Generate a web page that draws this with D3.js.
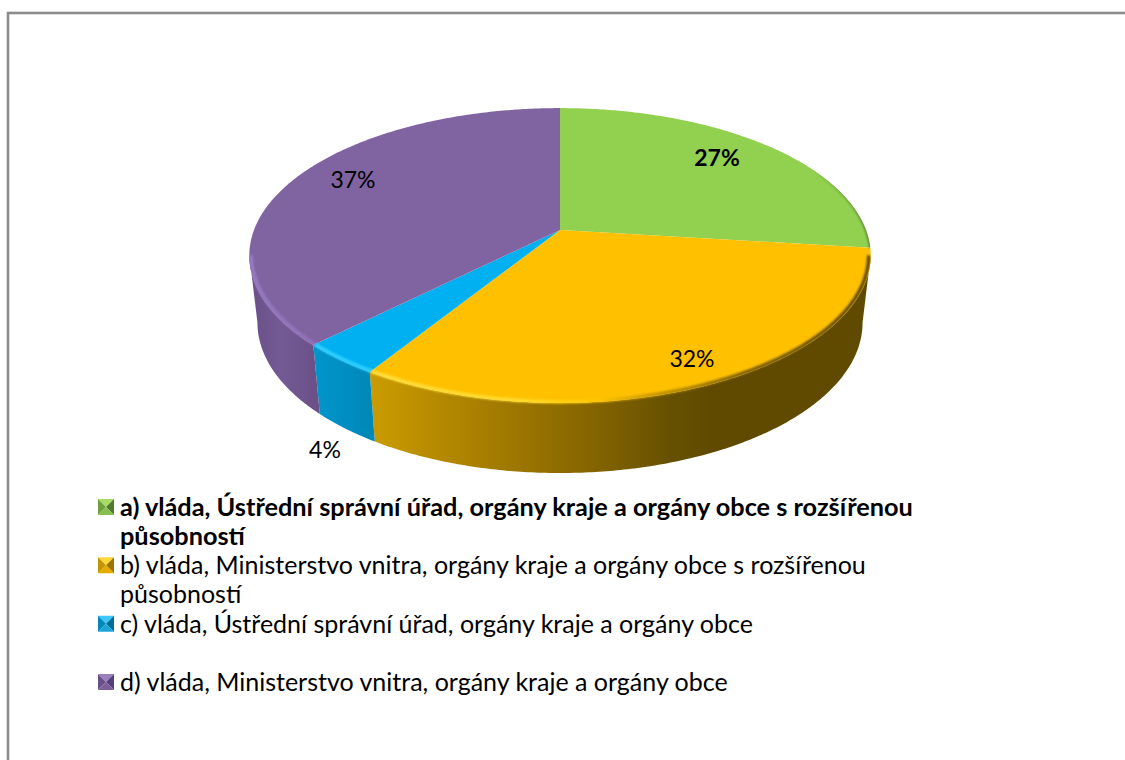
<!DOCTYPE html>
<html><head><meta charset="utf-8">
<script src="https://cdn.jsdelivr.net/npm/d3@7/dist/d3.min.js"></script>
<style>html,body{margin:0;padding:0;background:#fff;overflow:hidden}svg{display:block}text{font-family:Lato,"Open Sans",sans-serif;fill:#000}</style>
</head><body><svg id="c" width="1125" height="760"></svg>
<script>
const categories=["a","b","c","d"];
const values=[26.95,31.95,3.61,37.49];
const percentLabels=["27%","32%","4%","37%"];
const legendLines=[
 ["a) vláda, Ústřední správní úřad, orgány kraje a orgány obce s rozšířenou","působností"],
 ["b) vláda, Ministerstvo vnitra, orgány kraje a orgány obce s rozšířenou","působností"],
 ["c) vláda, Ústřední správní úřad, orgány kraje a orgány obce"],
 ["d) vláda, Ministerstvo vnitra, orgány kraje a orgány obce"]];
const boldFlags=[true,false,false,false];
const topColors=["#92d050","#ffc000","#00b0f0","#8064a2"];
const wallStops=[
 [[0,"#6f9c3c"],[1,"#4f7030"]],
 [[0,"#cb9c00"],[.22,"#a87f00"],[.45,"#846400"],[.6,"#665000"],[.68,"#604a00"],[1,"#604a00"]],
 [[0,"#0096cc"],[1,"#0088b8"]],
 [[0,"#6a5088"],[.5,"#745a94"],[1,"#6c5189"]]];
const rimStops=[
 [[0,"#5f8f38"],[1,"#4e7a30"]],
 [[0,"#ffe040"],[.3,"#ffdc30"],[.45,"#ffc800"],[.56,"#c89800"],[.75,"#7a5c00"],[1,"#5c4600"]],
 [[0,"#30d0ff"],[1,"#30d0ff"]],
 [[0,"#9a7cc4"],[1,"#9272bc"]]];
const labelPos=[[717,166],[692,367],[325,458],[353,188]];
const markerTop=["#a8dc62","#ffd83a","#3cc8f8","#9a80bc"];
const markerLeft=["#6fa03e","#c49400","#0088b8","#6a5088"];
const markerRight=["#4f7a30","#9c7600","#006f98","#54407a"];
const markerBottom=["#86bf4c","#e4ac00","#1aa4d8","#7a5f9c"];

const svg=d3.select("#c");
svg.append("rect").attr("x",8).attr("y",13).attr("width",1300).attr("height",1000)
  .attr("fill","#fff").attr("stroke","#8c8c8c").attr("stroke-width",2.6);

const defs=svg.append("defs");
const blur=defs.append("filter").attr("id","soft").attr("x","-10%").attr("y","-10%").attr("width","120%").attr("height","120%");
blur.append("feGaussianBlur").attr("stdDeviation",1.3);

// perspective projection of the unit disc
const K=.1729;
function proj(a,cy,A,B,r=1){const u=r*Math.sin(a),v=r*Math.cos(a),w=1+K*v;return [560+B*u/w,cy-A*v/w];}
const topP=a=>proj(a,230,143,306);
const rimP=a=>proj(a,230,143,306,.994);
const botP=a=>proj(a,296.5,146,298);
const line=d3.line();
const steps=(a,b)=>{const n=Math.max(2,Math.ceil((b-a)/.01));return d3.range(n+1).map(i=>a+(b-a)*i/n);};

const arcs=d3.pie().sort(null)(values);
function grad(id,stops,x1,x2){
  const g=defs.append("linearGradient").attr("id",id).attr("gradientUnits","userSpaceOnUse")
   .attr("x1",x1).attr("x2",x2).attr("y1",0).attr("y2",0);
  stops.forEach(s=>g.append("stop").attr("offset",s[0]).attr("stop-color",s[1]));
}
const visA=1.745, visB=2*Math.PI-1.745;
const walls=svg.append("g"), tops=svg.append("g");
// silhouette clip keeps the soft rim from leaking outside the pie
const clip=defs.append("clipPath").attr("id","sil");
clip.append("path").attr("d",line(steps(0,2*Math.PI).map(topP))+"Z");
{const ang=steps(visA,visB);
 clip.append("path").attr("d",line(ang.map(topP).concat(ang.slice().reverse().map(botP)))+"Z");}
const rims=svg.append("g").attr("clip-path","url(#sil)");
arcs.forEach((d,i)=>{
  const a=Math.max(d.startAngle,visA), b=Math.min(d.endAngle,visB);
  if(b>a){
    const xs=steps(a,b).map(t=>topP(t)[0]);
    const x1=d3.min(xs),x2=d3.max(xs);
    grad("w"+i,wallStops[i],x1,x2);
    grad("r"+i,rimStops[i],x1,x2);
    const ang=steps(a,b);
    walls.append("path").attr("d",line(ang.map(topP).concat(ang.slice().reverse().map(botP)))+"Z")
      .attr("fill",`url(#w${i})`);
  }
  tops.append("path").attr("d",line([[560,230]].concat(steps(d.startAngle,d.endAngle).map(topP)))+"Z")
    .attr("fill",topColors[i]);
  if(b>a){
    rims.append("path").attr("d",line(steps(a,b).map(rimP))).attr("fill","none")
      .attr("stroke",`url(#r${i})`).attr("stroke-width",3.5).attr("filter","url(#soft)");
  }
});
// thin dark edge on the green slice's right side
grad("edge",[[0,"#92d050"],[1,"#4e7a30"]],810,871);
rims.append("path").attr("d",line(steps(.9,arcs[0].endAngle).map(topP))).attr("fill","none")
  .attr("stroke","url(#edge)").attr("stroke-width",2.4).attr("filter","url(#soft)");

svg.append("g").selectAll("text").data(percentLabels).join("text")
  .attr("x",(d,i)=>labelPos[i][0]).attr("y",(d,i)=>labelPos[i][1])
  .attr("text-anchor","middle").attr("font-size",23).attr("font-weight",(d,i)=>boldFlags[i]?700:400)
  .text(d=>d);

// legend
const rowY=d3.scalePoint().domain(categories).range([507,682]);
const leg=svg.append("g").selectAll("g").data(categories).join("g")
  .attr("transform",d=>`translate(106,${rowY(d)})`);
const s=8;
leg.each(function(d,i){
  const g=d3.select(this);
  g.append("path").attr("d",line([[-s,-s],[s,-s],[0,0]])+"Z").attr("fill",markerTop[i]);
  g.append("path").attr("d",line([[-s,-s],[-s,s],[0,0]])+"Z").attr("fill",markerLeft[i]);
  g.append("path").attr("d",line([[s,-s],[s,s],[0,0]])+"Z").attr("fill",markerRight[i]);
  g.append("path").attr("d",line([[-s,s],[s,s],[0,0]])+"Z").attr("fill",markerBottom[i]);
  legendLines[i].forEach((ln,j)=>{
    g.append("text").attr("x",14).attr("y",9+j*29).attr("font-size",boldFlags[i]?25.3:25)
     .attr("font-weight",boldFlags[i]?700:400).text(ln);
  });
});
</script></body></html>
